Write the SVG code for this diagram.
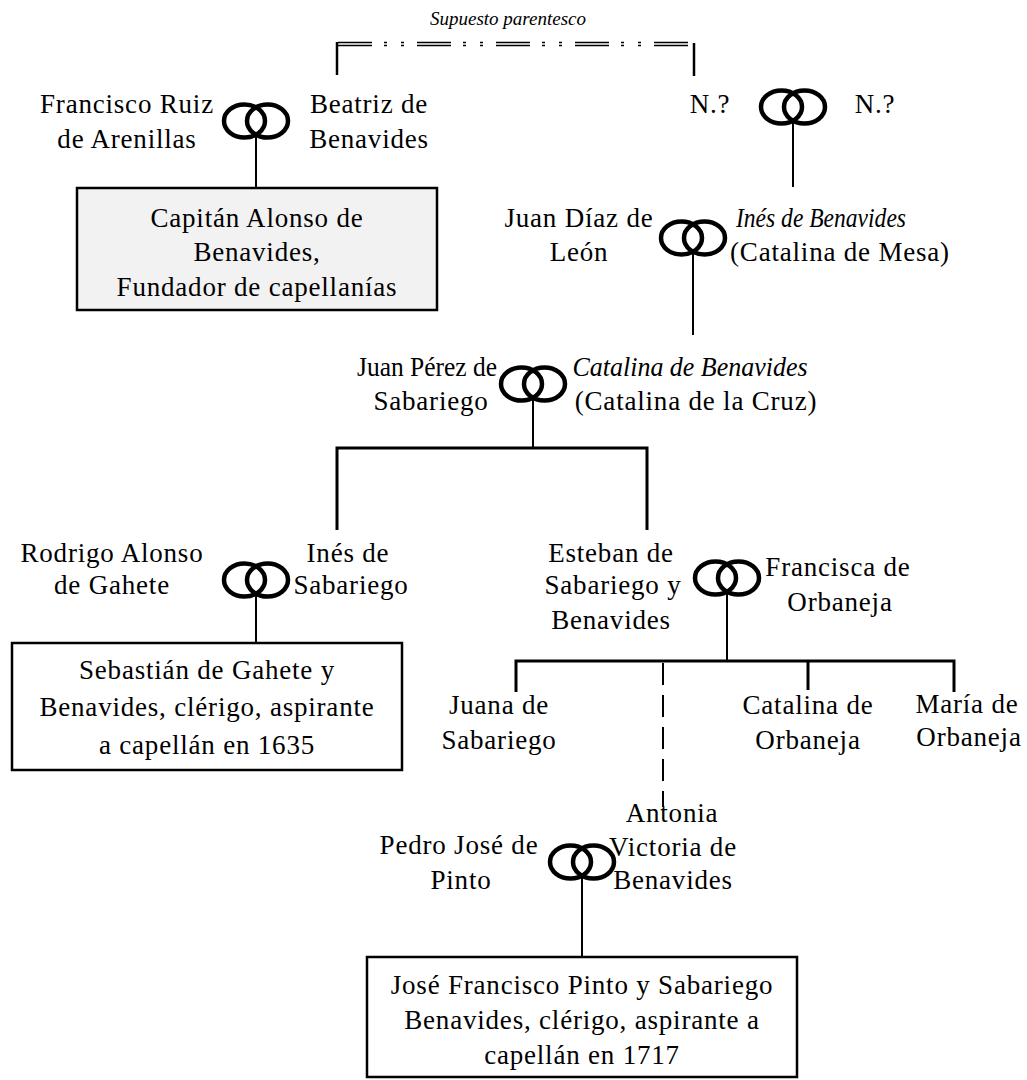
<svg xmlns="http://www.w3.org/2000/svg" width="1027" height="1080" viewBox="0 0 1027 1080">
<defs>
<style>
text{font-family:"Liberation Serif","Times New Roman",serif;font-size:27px;fill:#000;text-anchor:middle;letter-spacing:0.8px}
.it{font-style:italic;letter-spacing:0}
.sm{font-size:19px;font-style:italic;letter-spacing:0}
.ring{fill:none;stroke:#000;stroke-width:4.5}
.ln{stroke:#000;stroke-width:2;fill:none}
.bus{stroke:#000;stroke-width:3;fill:none}
.box{stroke:#000;stroke-width:2.5;fill:#fff}
.dash{stroke:#000;stroke-width:2;stroke-dasharray:22 10;fill:none}
.dbl{stroke:#000;stroke-width:1.4;stroke-dasharray:34 12 3 14 3 13;fill:none}
</style>
<g id="marriage">
<ellipse class="ring" cx="-11.5" cy="0" rx="20.5" ry="16.5"/>
<ellipse class="ring" cx="11.5" cy="0" rx="20.5" ry="16.5"/>
</g>
</defs>

<g id="connectors">
<line class="dbl" x1="338" y1="42.5" x2="688" y2="42.5"/>
<line class="dbl" x1="338" y1="45.5" x2="688" y2="45.5"/>
<line class="ln" x1="337" y1="42" x2="337" y2="75" style="stroke-width:2.5"/>
<line class="ln" x1="694" y1="43" x2="694" y2="76" style="stroke-width:2.5"/>
<line class="ln" x1="256" y1="134" x2="256" y2="188"/>
<line class="ln" x1="793" y1="120" x2="793" y2="187"/>
<line class="ln" x1="693" y1="251" x2="693" y2="335"/>
<line class="ln" x1="533" y1="397" x2="533" y2="448"/>
<polyline class="bus" points="337,530 337,448 647,448 647,530"/>
<line class="ln" x1="256" y1="593" x2="256" y2="643"/>
<line class="ln" x1="727" y1="591" x2="727" y2="661"/>
<polyline class="bus" points="516,692 516,661 954,661 954,692"/>
<line class="bus" x1="808" y1="661" x2="808" y2="690"/>
<line class="dash" x1="663" y1="663" x2="663" y2="807"/>
<line class="ln" x1="582" y1="875" x2="582" y2="957"/>
</g>

<text class="sm" x="508" y="25">Supuesto parentesco</text>

<g id="m1"><use href="#marriage" x="256" y="121"/></g>
<g id="m2"><use href="#marriage" x="793" y="107"/></g>
<g id="m3"><use href="#marriage" x="693" y="238"/></g>
<g id="m4"><use href="#marriage" x="533" y="384"/></g>
<g id="m5"><use href="#marriage" x="256" y="580"/></g>
<g id="m6"><use href="#marriage" x="727" y="578"/></g>
<g id="m7"><use href="#marriage" x="582" y="862"/></g>

<g id="francisco-ruiz"><text x="127" y="113">Francisco Ruiz</text><text x="127" y="148">de Arenillas</text></g>
<g id="beatriz"><text x="369" y="113">Beatriz de</text><text x="369" y="148">Benavides</text></g>
<g id="n1"><text x="710" y="113">N.?</text></g>
<g id="n2"><text x="875" y="113">N.?</text></g>

<g id="alonso">
<rect class="box" x="77" y="188" width="360" height="122" style="fill:#f2f2f2"/>
<text x="257" y="227">Capitán Alonso de</text>
<text x="257" y="261">Benavides,</text>
<text x="257" y="296">Fundador de capellanías</text>
</g>

<g id="juan-diaz"><text x="579" y="227">Juan Díaz de</text><text x="579" y="261">León</text></g>
<g id="ines-benavides"><text class="it" x="821" y="227" textLength="170" lengthAdjust="spacingAndGlyphs">Inés de Benavides</text><text x="840" y="261">(Catalina de Mesa)</text></g>

<g id="juan-perez"><text x="427" y="376" textLength="140" lengthAdjust="spacingAndGlyphs" style="letter-spacing:0">Juan Pérez de</text><text x="431" y="410">Sabariego</text></g>
<g id="catalina-benavides"><text class="it" x="690" y="376" textLength="235" lengthAdjust="spacingAndGlyphs">Catalina de Benavides</text><text x="696" y="410">(Catalina de la Cruz)</text></g>

<g id="rodrigo"><text x="112" y="562">Rodrigo Alonso</text><text x="112" y="594">de Gahete</text></g>
<g id="ines-sabariego"><text x="348" y="562">Inés de</text><text x="351" y="594">Sabariego</text></g>
<g id="esteban"><text x="611" y="562">Esteban de</text><text x="613" y="594">Sabariego y</text><text x="611" y="629">Benavides</text></g>
<g id="francisca"><text x="838" y="576">Francisca de</text><text x="840" y="611">Orbaneja</text></g>

<g id="sebastian">
<rect class="box" x="12" y="643" width="390" height="127"/>
<text x="207" y="679">Sebastián de Gahete y</text>
<text x="207" y="716">Benavides, clérigo, aspirante</text>
<text x="207" y="754">a capellán en 1635</text>
</g>

<g id="juana"><text x="499" y="714">Juana de</text><text x="499" y="749">Sabariego</text></g>
<g id="catalina-orbaneja"><text x="808" y="714">Catalina de</text><text x="808" y="749">Orbaneja</text></g>
<g id="maria"><text x="967" y="713">María de</text><text x="969" y="746">Orbaneja</text></g>

<g id="pedro"><text x="459" y="854">Pedro José de</text><text x="461" y="889">Pinto</text></g>
<g id="antonia"><text x="672" y="822">Antonia</text><text x="673" y="856">Victoria de</text><text x="673" y="889">Benavides</text></g>

<g id="jose-francisco">
<rect class="box" x="367" y="957" width="430" height="120"/>
<text x="582" y="994">José Francisco Pinto y Sabariego</text>
<text x="582" y="1029">Benavides, clérigo, aspirante a</text>
<text x="582" y="1064">capellán en 1717</text>
</g>
</svg>
